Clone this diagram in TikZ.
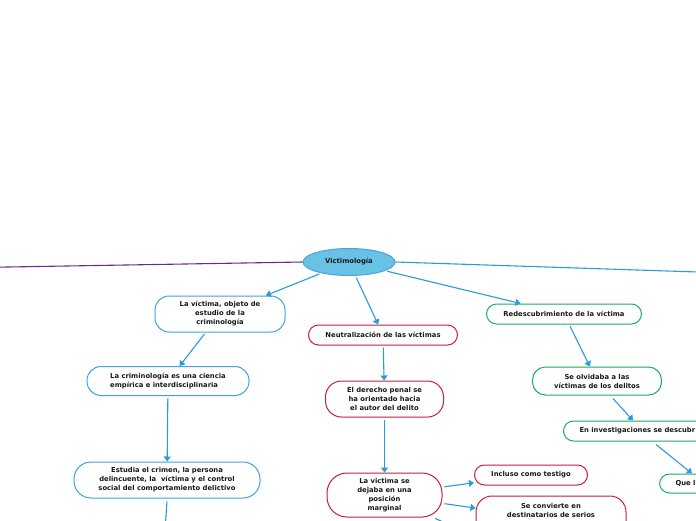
\documentclass[tikz,border=0pt]{standalone}
\usepackage{fontspec}
\setmainfont{DejaVu Sans}
\usetikzlibrary{arrows.meta,shapes.geometric,calc}
\definecolor{cblue}{RGB}{59,163,230}
\definecolor{carrow}{RGB}{40,155,225}
\definecolor{cred}{RGB}{200,30,60}
\definecolor{cgreen}{RGB}{30,172,92}
\definecolor{cpurple}{RGB}{105,45,145}
\definecolor{cfill}{RGB}{104,194,230}
\definecolor{cedge}{RGB}{70,165,215}
\begin{document}
\begin{tikzpicture}[x=1pt,y=-1pt,
  base/.style={font=\fontsize{6.8}{9}\selectfont\bfseries, text=black!90, align=center, line width=1pt, inner sep=2pt},
  bbox/.style={base, draw=cblue, rounded corners=14pt},
  rbox/.style={base, draw=cred, rounded corners=10pt},
  gbox/.style={base, draw=cgreen, rounded corners=10pt},
  arr/.style={draw=carrow, line width=1.1pt, -{Triangle[length=5pt,width=7pt]}, shorten <=2pt},
  plain/.style={draw=carrow, line width=1.1pt}]
\clip (0,0) rectangle (696,520);
\fill[white] (0,0) rectangle (696,520);

\node[base, ellipse, draw=cedge, fill=cfill, minimum width=92pt, minimum height=27pt] (vic) at (349,262) {Victimología};

\node[bbox, minimum width=130pt, minimum height=36pt] (n1) at (220,314) {La víctima, objeto de\\estudio de la\\criminología};
\node[bbox, align=left, minimum width=162pt, minimum height=29pt] (n2) at (168,381) {La criminología es una ciencia\\empírica e interdisciplinaria};
\node[bbox, minimum width=186pt, minimum height=36pt, rounded corners=17pt] (n3) at (167,480) {Estudia el crimen, la persona\\delincuente, la \ víctima y el control\\social del comportamiento delictivo};

\node[rbox, minimum width=149pt, minimum height=20pt] (r1) at (383,335) {Neutralización de las víctimas};
\node[rbox, minimum width=118pt, minimum height=36pt, rounded corners=16pt] (r2) at (384.5,399) {El derecho penal se\\ha orientado hacia\\el autor del delito};
\node[rbox, minimum width=115pt, minimum height=44pt, rounded corners=20pt] (r3) at (384.5,495) {La victima se\\dejaba en una\\posición\\marginal};
\node[rbox, minimum width=113pt, minimum height=20pt] (r4) at (531,475) {Incluso como testigo};
\node[rbox, minimum width=150pt, minimum height=46pt, rounded corners=16pt] (r5) at (551,519) {Se convierte en\\destinatarios de serios\\\mbox{}\\\mbox{}};

\node[gbox, minimum width=155pt, minimum height=20pt] (g1) at (564,314) {Redescubrimiento de la víctima};
\node[gbox, minimum width=129pt, minimum height=28pt, rounded corners=13pt] (g2) at (597,381) {Se olvidaba a las\\víctimas de los delitos};
\node[gbox, anchor=west, minimum height=20pt, inner xsep=16pt] (g3) at (563,431) {En investigaciones se descubr};
\node[gbox, anchor=west, minimum height=19pt, inner xsep=16pt] (g4) at (659,483.5) {Que l};

\coordinate (pl) at (-10,267.3);
\coordinate (pr) at (710,272.4);
\coordinate (down1) at (165,530);
\coordinate (r6) at (560,576);

\draw[cpurple, line width=1.1pt] (vic.west) -- (pl);
\draw[plain] (vic.east) -- (pr);
\draw[arr] (vic) -- (n1);
\draw[arr] (vic) -- (r1);
\draw[arr] (vic) -- (g1);
\draw[arr] (n1) -- (n2);
\draw[arr] (n2) -- (n3);
\draw[plain] (n3.south) ++(0,3) -- (down1);
\draw[arr] (r1) -- (r2);
\draw[arr] (r2) -- (r3);
\draw[arr] (r3) -- (r4);
\draw[arr] (r3) -- (r5);
\draw[arr] (r3) -- (r6);
\draw[arr] (g1) -- (g2);
\draw[arr, shorten <=0pt] ($(g2.south)+(16,3)$) -- ($(g3.north west)+(70,0)$);
\draw[arr, shorten <=0pt] ($(g3.south west)+(93,3)$) -- ($(g4.north west)+(33,0)$);
\end{tikzpicture}
\end{document}
